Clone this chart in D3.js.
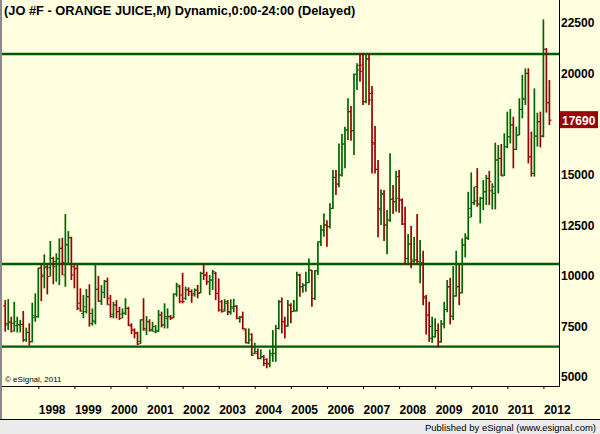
<!DOCTYPE html>
<html>
<head>
<meta charset="utf-8">
<script src="https://cdn.jsdelivr.net/npm/d3@7"></script>
<style>
  html, body { margin: 0; padding: 0; background: #ffffe0; }
  svg { display: block; font-family: 'Liberation Sans', Arial, sans-serif; }
</style>
</head>
<body>
<div class="canvas"></div>
<script>
const width = 600
const height = 434

// monthly bars Feb 1997 .. Mar 2012
const firstMonth = new Date(1997, 1, 1)
const months = d3.timeMonth.range(firstMonth, new Date(2012, 3, 1))

const opens = [
  8510,7570,7730,7650,7530,7570,7600,6830,7200,6740,7930,
  7980,10400,10040,10400,10400,10860,10700,10830,11360,10040,11520,11880,
  10450,10370,8640,8140,8230,8970,7650,7730,9330,8750,9180,9710,
  8560,8100,8560,8230,8110,8150,8390,7520,7320,7160,6750,7820,
  7320,7730,7350,7240,7240,8060,7570,7900,7980,7950,9100,9460,
  9050,8890,9300,9220,9130,9300,9170,10120,10040,9710,9790,10120,
  9130,8720,8310,8640,8180,8400,8500,7900,7980,7320,6690,7120,
  6170,6170,5920,6000,5870,5670,6080,6170,7400,8720,7730,7520,
  8550,8230,8270,10040,9460,9540,9660,10280,8880,10250,11680,12260,
  12510,12430,13330,14860,14530,14980,16510,17200,18110,17170,19950,20400,
  20410,18600,20710,19010,16510,15260,13250,14040,12510,12750,13780,13660,
  14900,13740,12560,10860,11570,10700,10780,10600,10530,8900,8060,6910,
  6990,7290,6740,7620,8340,9450,8000,9000,9460,9160,11520,11850,
  13330,13610,14400,13540,13830,14150,14810,14200,14070,15720,15800,14980,
  16380,16870,17450,16250,16950,18220,18720,20000,15880,15060,16900,17610,
  16900,21190,18550
]
const highs = [
  8800,8850,7980,8720,7980,7820,8260,7440,7650,8670,9130,
  10400,10570,11060,10530,11720,10940,11110,11850,11880,13050,12210,11930,
  10530,10530,9380,9050,9350,9580,8390,10570,10000,9540,9790,9910,
  9050,8720,8800,8470,8390,8890,8470,7650,7400,7240,7850,8890,
  8010,7850,7730,7570,8310,8230,8640,8390,8060,9130,9660,9550,
  10150,9460,9430,9330,9380,9550,10200,10620,10200,10040,10290,10200,
  9870,8800,8840,8800,8840,8860,8550,8010,8230,7400,7400,7150,
  6690,6410,6360,6080,5920,6360,7320,7570,8800,8930,7980,8800,
  8640,8800,10200,10100,9630,10200,10860,10290,10290,11700,12510,13080,
  12750,13580,15230,15230,16540,17000,17370,18770,18390,20000,20500,20960,
  20960,20960,20960,19380,17400,15720,14270,14240,13250,16050,14480,15190,
  15230,13820,13410,12060,12460,11930,13050,11770,11240,9050,8720,7980,
  7900,7650,7810,8720,9790,9900,10480,11240,10530,11850,12100,14150,
  15110,14400,15320,13900,14730,14980,15180,14570,16580,16460,16510,17040,
  18110,18240,17860,17370,18770,19920,20250,20250,17120,19260,18060,18110,
  22670,21250,19670
]
const lows = [
  7240,7320,7200,7240,7200,7200,6740,6740,6550,6710,7730,
  7930,8750,9380,9080,9960,9580,9710,9540,10040,9460,10530,9790,
  9380,8310,8230,7900,8140,7490,7540,7600,8720,8560,8890,8560,
  7930,7900,7900,7820,7900,8060,7520,7120,6910,6580,6630,7290,
  7070,7240,7240,7160,7240,7450,7400,7400,7820,7900,8970,8640,
  8640,8800,9000,8670,8970,8890,9130,9790,9550,9050,9300,8800,
  8230,8180,8230,8060,8080,8200,7850,7680,7350,6660,6630,6040,
  6130,5870,5870,5540,5430,5480,5750,5750,7350,7150,6910,7480,
  7650,8230,8230,8970,9160,9210,9630,8470,8800,10040,11470,11930,
  11440,12340,13300,13990,14370,14900,15310,16710,16670,15970,19180,19590,
  18440,18520,18440,15060,15060,11900,12510,11720,11060,12670,13050,13170,
  13120,12510,10530,10580,10370,10650,10610,9630,8550,7100,6740,6690,
  6950,6460,6690,7400,8200,7600,7810,8970,8550,9130,10910,11770,
  12890,13500,13410,12590,13250,13500,13500,13280,13280,14070,14930,14930,
  16300,16540,15310,16210,16950,17780,18440,15550,14900,14900,16380,16340,
  16840,18060,17450
]
const closes = [
  7650,7680,7270,7730,7600,7600,6830,7200,6740,8030,7980,
  10370,9960,10450,9960,10860,10450,10860,11360,10660,11550,11880,10040,
  10340,8390,8260,8470,8970,8140,7770,9330,8750,9180,9740,8890,
  7980,8560,8230,7900,8150,8390,7570,7320,7190,6630,7820,7400,
  7730,7290,7490,7300,8060,7570,7980,7980,7900,9100,9550,8720,
  8720,9330,9220,9050,9270,9130,10120,10040,9710,9790,10200,9130,
  8310,8230,8720,8230,8470,8500,7900,7950,7400,6690,6830,6080,
  6250,5920,6000,5670,5640,6170,6170,7400,8720,7730,7520,8550,
  8230,8270,10040,9460,9540,9660,10280,8880,10250,11680,12260,12510,
  12430,13330,14860,14530,14980,16510,17200,18110,17170,19950,20170,20100,
  18600,20710,18680,16580,15260,13330,14040,12510,12750,13780,13660,13830,
  13750,12560,10860,11570,10780,10780,10710,10650,8970,8060,7490,6990,
  7290,6740,7620,8340,9460,8000,9000,9460,9160,11520,11900,12890,
  13610,13700,13540,13830,14150,14810,14650,14400,15720,15800,14930,16380,
  16870,17450,16250,16950,18220,18770,20000,15880,15060,16900,17610,16900,
  21190,18550,17690
]

// drawn support / resistance levels
const levels = [20960, 10580, 6500]
// 17500 sits under the last-price marker, so it is not labelled
const priceTicks = [5000, 7500, 10000, 12500, 15000, 20000, 22500]
const years = d3.range(1998, 2013)
const lastPrice = closes[closes.length - 1]

const upColor = '#006400'
const downColor = '#990000'
const levelColor = '#005a00'

const bars = months.map((d, i) => ({
  m: d3.timeMonth.count(new Date(1998, 0, 1), d),
  o: opens[i], h: highs[i], l: lows[i], c: closes[i]
}))

const svg = d3.select('.canvas')
  .append('svg')
  .attr('width', width)
  .attr('height', height)

const x = d3.scaleLinear().domain([0, 168]).range([38.3, 543.4])
const y = d3.scaleLinear().domain([5000, 22500]).range([377, 22.8])

svg.append('rect').attr('width', width).attr('height', height).attr('fill', '#ffffe0')

// title
svg.append('text')
  .attr('x', 4).attr('y', 15)
  .attr('font-size', 12.8).attr('font-weight', 'bold')
  .text('(JO #F - ORANGE JUICE,M) Dynamic,0:00-24:00 (Delayed)')

// level lines
svg.selectAll('.level')
  .data(levels)
  .enter().append('line')
  .attr('class', 'level')
  .attr('x1', 2).attr('x2', 559)
  .attr('y1', d => y(d)).attr('y2', d => y(d))
  .attr('stroke', levelColor)
  .attr('stroke-width', 2.4)

// OHLC bars
const g = svg.append('g')
const barG = g.selectAll('g.bar')
  .data(bars)
  .enter().append('g')
  .attr('class', 'bar')
  .attr('stroke', d => d.c >= d.o ? upColor : downColor)

barG.append('line')
  .attr('x1', d => x(d.m)).attr('x2', d => x(d.m))
  .attr('y1', d => y(d.h)).attr('y2', d => y(d.l))
  .attr('stroke-width', 1.7)

barG.append('line')
  .attr('x1', d => x(d.m) - 2.2).attr('x2', d => x(d.m))
  .attr('y1', d => y(d.o)).attr('y2', d => y(d.o))
  .attr('stroke-width', 1)

barG.append('line')
  .attr('x1', d => x(d.m)).attr('x2', d => x(d.m) + 2.2)
  .attr('y1', d => y(d.c)).attr('y2', d => y(d.c))
  .attr('stroke-width', 1)

// frame
svg.append('line').attr('x1', 559.5).attr('x2', 559.5).attr('y1', 0).attr('y2', 387)
  .attr('stroke', '#000')
svg.append('line').attr('x1', 0).attr('x2', 559.5).attr('y1', 386.5).attr('y2', 386.5)
  .attr('stroke', '#000')

// x axis (years)
const xAxis = d3.axisBottom(x)
  .tickValues(years.map(yr => (yr - 1998) * 12))
  .tickFormat((d, i) => years[i])
  .tickSize(3)
  .tickPadding(0)

const xg = svg.append('g')
  .attr('transform', 'translate(0, 386)')
  .call(xAxis)
xg.select('.domain').remove()
xg.selectAll('text')
  .attr('text-anchor', 'start')
  .attr('y', 28)
  .attr('dy', 0)
  .attr('font-size', 12)
  .attr('font-weight', 'bold')
  .attr('fill', '#000')
  .attr('font-family', "'Liberation Sans', Arial, sans-serif")

// y axis (prices) on the right
const yAxis = d3.axisRight(y)
  .tickValues(priceTicks)
  .tickSize(0)
  .tickPadding(0)
  .tickFormat(d3.format('d'))

const yg = svg.append('g')
  .attr('transform', 'translate(561, 0)')
  .call(yAxis)
yg.select('.domain').remove()
yg.selectAll('text')
  .attr('font-size', 12)
  .attr('font-weight', 'bold')
  .attr('fill', '#000')
  .attr('font-family', "'Liberation Sans', Arial, sans-serif")

// last price marker
const lp = svg.append('g').attr('transform', `translate(560, ${y(lastPrice)})`)
lp.append('rect')
  .attr('x', 0).attr('y', -9)
  .attr('width', 38).attr('height', 17)
  .attr('fill', downColor)
lp.append('text')
  .attr('x', 2).attr('y', 4.5)
  .attr('font-size', 12).attr('font-weight', 'bold')
  .attr('fill', '#fff')
  .text(lastPrice)

// copyright
svg.append('text')
  .attr('x', 5).attr('y', 382)
  .attr('font-size', 8)
  .text('\u00a9 eSignal, 2011')

// left border
svg.append('rect').attr('x', 0).attr('y', 0).attr('width', 2).attr('height', 419).attr('fill', '#8a8a8a')

// footer band
svg.append('rect').attr('x', 0).attr('y', 419).attr('width', width).attr('height', 15).attr('fill', '#ececec')
svg.append('line').attr('x1', 0).attr('x2', width).attr('y1', 419.5).attr('y2', 419.5).attr('stroke', '#000')
svg.append('text')
  .attr('x', 596).attr('y', 431)
  .attr('text-anchor', 'end')
  .attr('font-size', 9.5)
  .text('Published by eSignal (www.esignal.com)')
</script>
</body>
</html>
